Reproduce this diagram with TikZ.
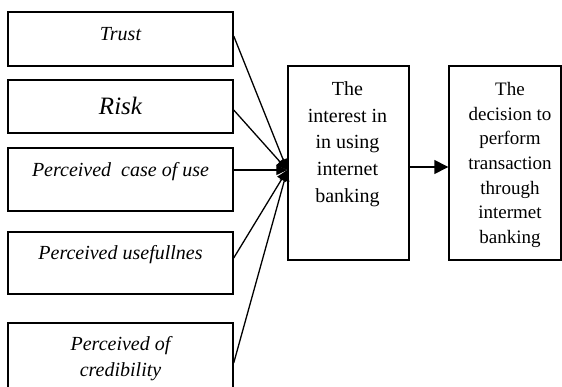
\documentclass[tikz,border=0pt]{standalone}
\usepackage{fontspec}
\setmainfont{Liberation Serif}
\usetikzlibrary{arrows.meta}

\begin{document}
\begin{tikzpicture}[x=1pt, y=-1pt,
    factor/.style={draw, line width=1.4pt, minimum width=225pt, inner sep=0pt},
    stage/.style={draw, line width=1.4pt, minimum height=194pt, inner sep=0pt},
    ftext/.style={font=\fontsize{20}{26}\selectfont\itshape, inner sep=0pt,
        align=center},
    stext/.style={inner sep=0pt, align=center, anchor=north},
    link/.style={-{Triangle[length=11pt, width=10pt]}, line width=1.3pt},
    arrow/.style={-{Triangle[length=14pt, width=14pt]}, line width=1.4pt}
]
    \useasboundingbox (0,0) rectangle (562,387);
    \clip (0,0) rectangle (562,387);

    % left column of factors
    \node[factor, minimum height=54pt] (trust) at (120.5,39) {};
    \node[factor, minimum height=53pt] (risk) at (120.5,106.5) {};
    \node[factor, minimum height=63pt] (case) at (120.5,179.5) {};
    \node[factor, minimum height=62pt] (useful) at (120.5,263) {};
    \node[factor, minimum height=80pt] (cred) at (120.5,363) {};

    \node[ftext, anchor=base] (trust_txt) at (120.5,41) {Trust};
    \node[ftext, anchor=base, font=\fontsize{25}{30}\selectfont\itshape]
        (risk_txt) at (120.5,115) {Risk};
    \node[ftext, anchor=base] (case_txt) at (120.5,177) {Perceived\ \ case of use};
    \node[ftext, anchor=base] (useful_txt) at (120.5,260) {Perceived usefullnes};
    \node[ftext, anchor=north] (cred_txt) at (120.5,336) {Perceived of\\credibility};

    % stages
    \node[stage, minimum width=121pt] (interest) at (348.5,163) {};
    \node[stage, minimum width=112pt] (decision) at (505,163) {};

    \node[stext, font=\fontsize{20}{26.75}\selectfont] (interest_txt) at (347.5,81.3)
        {The\\interest in\\in using\\internet\\banking};
    \node[stext, font=\fontsize{19}{24.7}\selectfont] (decision_txt) at (510,82)
        {The\\decision to\\perform\\transaction\\through\\intermet\\banking};

    \coordinate (join) at (interest.west |- 0,170);

    % converging links
    \foreach \src/\y in {trust/36, risk/110, case/170, useful/258, cred/363}
        \draw[link] (\src.east |- 0,\y) -- (join);

    \draw[arrow] (interest.east |- 0,167) -- (decision.west |- 0,167);
\end{tikzpicture}
\end{document}
